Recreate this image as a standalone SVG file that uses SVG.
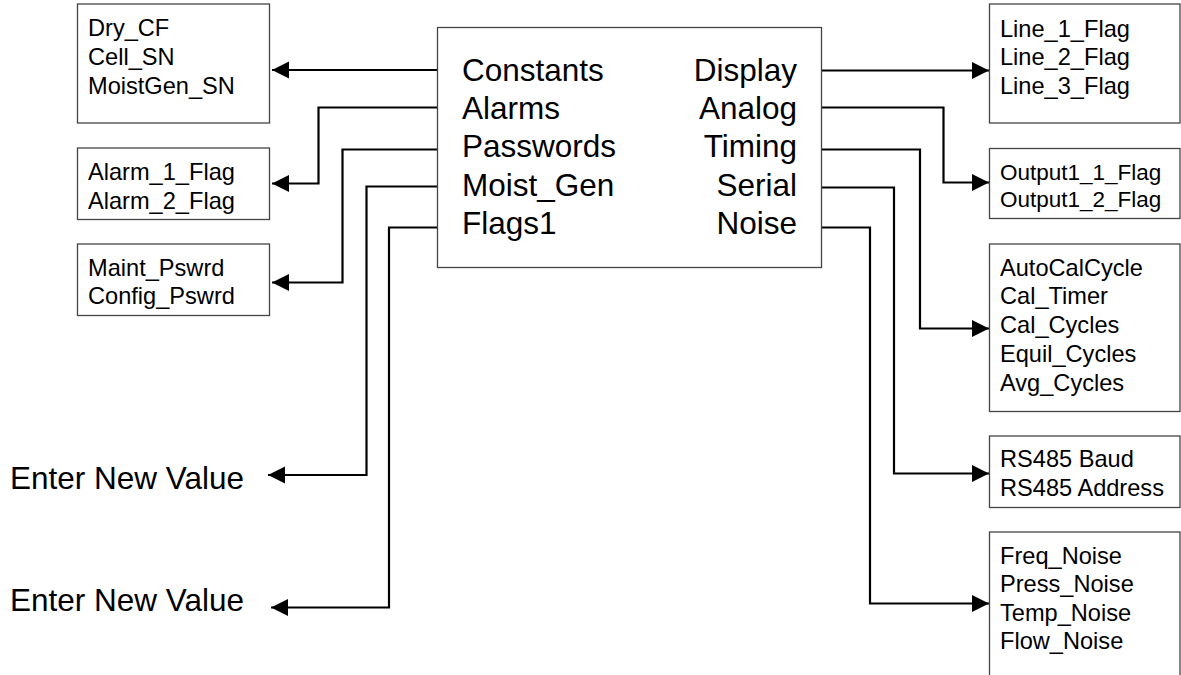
<svg xmlns="http://www.w3.org/2000/svg" width="1181" height="675" viewBox="0 0 1181 675">
<style>
.box{fill:#fff;stroke:#444;stroke-width:1.3}
.s{font-family:"Liberation Sans",Arial,sans-serif;font-size:23.6px;fill:#000}
.o{font-family:"Liberation Sans",Arial,sans-serif;font-size:22.5px;fill:#000}
.l{font-family:"Liberation Sans",Arial,sans-serif;font-size:31.5px;fill:#000}
.c{fill:none;stroke:#000;stroke-width:2.2;stroke-linejoin:miter}
</style>
<defs>
<marker id="ah" markerUnits="userSpaceOnUse" markerWidth="18" markerHeight="18" refX="17" refY="8.5" orient="auto">
<path d="M0,0 L17,8.5 L0,17 Z" fill="#000"/>
</marker>
</defs>
<rect width="1181" height="675" fill="#fff"/>
<g id="connectors">
<path class="c" d="M437,70 H272" marker-end="url(#ah)"/>
<path class="c" d="M437,107.5 H318.5 V183.5 H272" marker-end="url(#ah)"/>
<path class="c" d="M437,149.5 H342.5 V282.5 H272" marker-end="url(#ah)"/>
<path class="c" d="M437,186.5 H366.5 V475 H268" marker-end="url(#ah)"/>
<path class="c" d="M437,227.5 H389 V607.5 H271" marker-end="url(#ah)"/>
<path class="c" d="M822,70.5 H989" marker-end="url(#ah)"/>
<path class="c" d="M822,107.5 H943.5 V182.5 H989" marker-end="url(#ah)"/>
<path class="c" d="M822,149.5 H920 V328.5 H989" marker-end="url(#ah)"/>
<path class="c" d="M822,187.5 H894 V473.5 H989" marker-end="url(#ah)"/>
<path class="c" d="M822,227.5 H870 V603.5 H989" marker-end="url(#ah)"/>
</g>
<g id="main">
<rect class="box" x="437.5" y="27.5" width="384" height="240"/>
<text class="l" x="462" y="81">Constants</text>
<text class="l" x="462" y="119">Alarms</text>
<text class="l" x="462" y="157">Passwords</text>
<text class="l" x="462" y="195.5">Moist_Gen</text>
<text class="l" x="462" y="233.5">Flags1</text>
<g text-anchor="end">
<text class="l" x="797" y="81">Display</text>
<text class="l" x="797" y="119">Analog</text>
<text class="l" x="797" y="157">Timing</text>
<text class="l" x="797" y="195.5">Serial</text>
<text class="l" x="797" y="233.5">Noise</text>
</g>
</g>
<g id="constants">
<rect class="box" x="77.5" y="4" width="192" height="119"/>
<text class="s" x="88" y="36">Dry_CF</text>
<text class="s" x="88" y="65">Cell_SN</text>
<text class="s" x="88" y="94">MoistGen_SN</text>
</g>
<g id="alarms">
<rect class="box" x="77.5" y="148" width="192" height="71.5"/>
<text class="s" x="88" y="180">Alarm_1_Flag</text>
<text class="s" x="88" y="209">Alarm_2_Flag</text>
</g>
<g id="passwords">
<rect class="box" x="77.5" y="244" width="192" height="71.5"/>
<text class="s" x="88" y="275.5">Maint_Pswrd</text>
<text class="s" x="88" y="304">Config_Pswrd</text>
</g>
<g id="enter1">
<text class="l" x="10" y="488.5">Enter New Value</text>
</g>
<g id="enter2">
<text class="l" x="10" y="611">Enter New Value</text>
</g>
<g id="display">
<rect class="box" x="989.5" y="4" width="190.5" height="119"/>
<text class="s" x="1000" y="36.5">Line_1_Flag</text>
<text class="s" x="1000" y="65">Line_2_Flag</text>
<text class="s" x="1000" y="93.5">Line_3_Flag</text>
</g>
<g id="analog">
<rect class="box" x="989.5" y="148.5" width="190.5" height="70"/>
<text class="o" x="1000" y="180">Output1_1_Flag</text>
<text class="o" x="1000" y="207">Output1_2_Flag</text>
</g>
<g id="timing">
<rect class="box" x="989.5" y="244" width="190.5" height="167.5"/>
<text class="s" x="1000" y="275.5">AutoCalCycle</text>
<text class="s" x="1000" y="304">Cal_Timer</text>
<text class="s" x="1000" y="333">Cal_Cycles</text>
<text class="s" x="1000" y="362">Equil_Cycles</text>
<text class="s" x="1000" y="390.5">Avg_Cycles</text>
</g>
<g id="serial">
<rect class="box" x="989.5" y="436" width="190.5" height="71.5"/>
<text class="s" x="1000" y="467">RS485 Baud</text>
<text class="s" x="1000" y="495.5">RS485 Address</text>
</g>
<g id="noise">
<rect class="box" x="989.5" y="532" width="190.5" height="170"/>
<text class="s" x="1000" y="563.5">Freq_Noise</text>
<text class="s" x="1000" y="592">Press_Noise</text>
<text class="s" x="1000" y="620.5">Temp_Noise</text>
<text class="s" x="1000" y="649">Flow_Noise</text>
</g>
</svg>
